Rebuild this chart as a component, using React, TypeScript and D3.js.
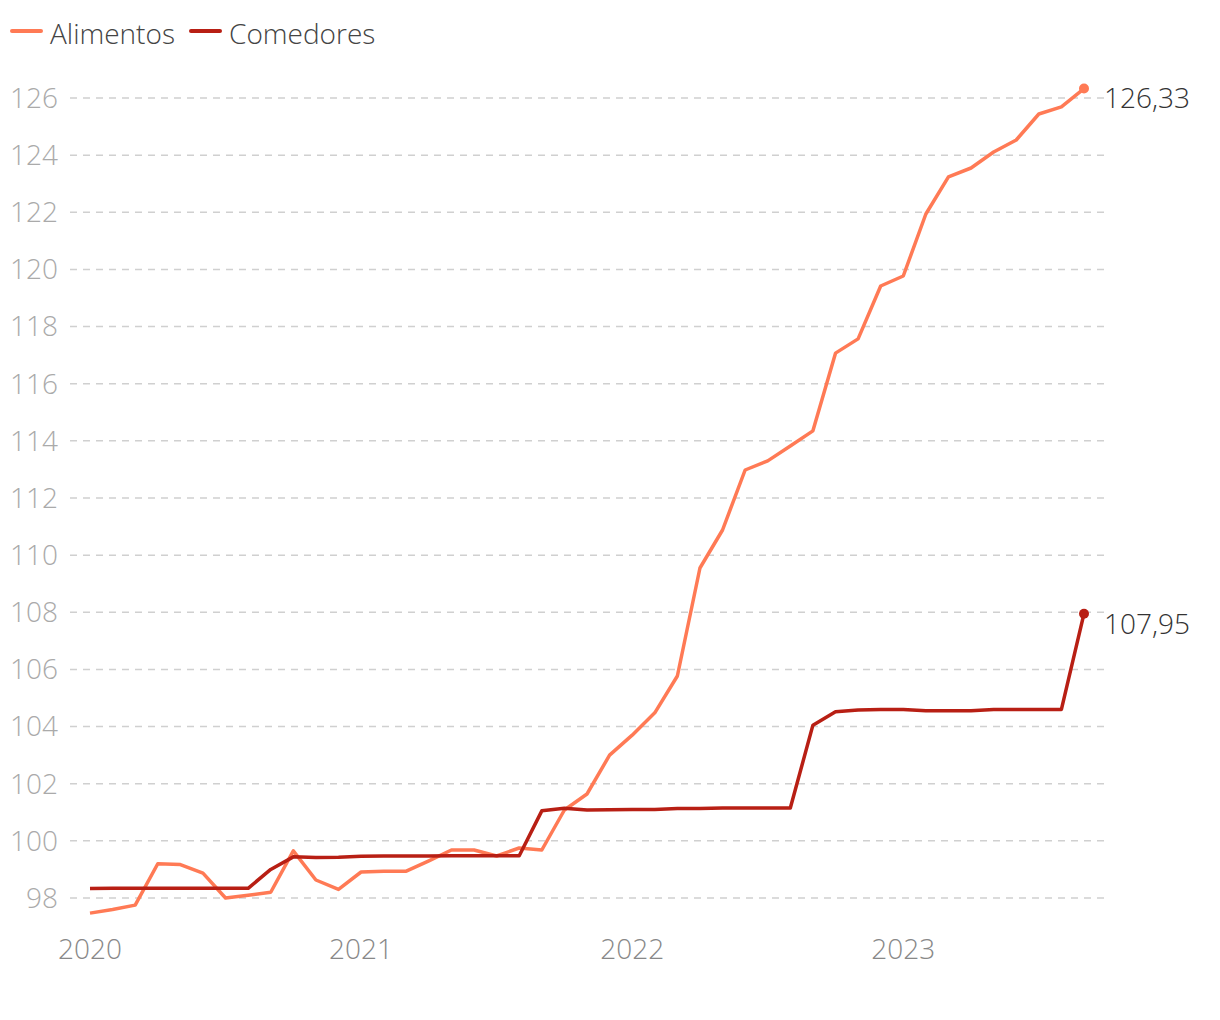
import React from "react";
import * as d3 from "d3";

const startYear = 2020;
const yTicks = [98, 100, 102, 104, 106, 108, 110, 112, 114, 116, 118, 120, 122, 124, 126];
const xTickYears = [2020, 2021, 2022, 2023];

const alimentos = [
  97.47, 97.6, 97.75, 99.2, 99.17, 98.87, 98.0, 98.1, 98.2, 99.65, 98.63, 98.3,
  98.91, 98.94, 98.94, 99.3, 99.68, 99.68, 99.47, 99.75, 99.68, 101.08, 101.64, 103.0,
  103.7, 104.48, 105.77, 109.55, 110.88, 112.98, 113.3, 113.82, 114.35, 117.07, 117.57, 119.42,
  119.77, 121.94, 123.24, 123.55, 124.11, 124.53, 125.44, 125.69, 126.33,
];
const comedores = [
  98.33, 98.34, 98.34, 98.34, 98.34, 98.34, 98.34, 98.34, 99.0, 99.44, 99.42, 99.43,
  99.46, 99.47, 99.47, 99.47, 99.48, 99.48, 99.48, 99.48, 101.05, 101.14, 101.08, 101.09,
  101.1, 101.1, 101.13, 101.13, 101.15, 101.15, 101.15, 101.15, 104.05, 104.52, 104.58, 104.6,
  104.6, 104.55, 104.55, 104.55, 104.6, 104.6, 104.6, 104.6, 107.95,
];

const seriesNames = ["Alimentos", "Comedores"];
const seriesColors = ["#ff7a55", "#b81f14"];
const lastLabels = ["126,33", "107,95"];

const FONT = "'Open Sans', 'Noto Sans', sans-serif";

export default function App() {
  const W = 1220;
  const H = 1020;
  const n = alimentos.length;
  const x = d3.scaleLinear().domain([0, n - 1]).range([90, 1084]);
  const y = d3.scaleLinear().domain([98, 126]).range([898, 98]);
  const line = d3
    .line<number>()
    .x((_, i) => x(i))
    .y((d) => y(d));
  const data = [alimentos, comedores];

  return (
    <svg
      width={W}
      height={H}
      style={{ position: "absolute", left: 0, top: 0, background: "#fff" }}
      fontFamily={FONT}
    >
      {/* grid + y ticks */}
      {yTicks.map((t) => (
        <g key={t}>
          <line
            x1={70}
            x2={1104}
            y1={y(t)}
            y2={y(t)}
            stroke="#d0d0d0"
            strokeWidth={1.5}
            strokeDasharray="7,6"
          />
          <text
            x={58}
            y={y(t)}
            dy="0.35em"
            textAnchor="end"
            fontSize={28}
            fontWeight={300}
            fill="#aaaaaa"
          >
            {t}
          </text>
        </g>
      ))}
      {/* x ticks */}
      {xTickYears.map((yr) => (
        <text
          key={yr}
          x={x((yr - startYear) * 12)}
          y={959}
          textAnchor="middle"
          fontSize={28}
          fontWeight={300}
          fill="#888888"
        >
          {yr}
        </text>
      ))}
      {/* lines */}
      {data.map((s, k) => (
        <g key={k}>
          <path
            d={line(s) || ""}
            fill="none"
            stroke={seriesColors[k]}
            strokeWidth={3.5}
            strokeLinejoin="round"
          />
          <circle cx={x(n - 1)} cy={y(s[n - 1])} r={5} fill={seriesColors[k]} />
          <text
            x={1104}
            y={y(s[n - 1]) + 10}
            dy="0.35em"
            fontSize={28}
            fontWeight={300}
            fill="#333333"
          >
            {lastLabels[k]}
          </text>
        </g>
      ))}
      {/* legend */}
      {seriesNames.map((name, k) => {
        const lx = k === 0 ? 12 : 191;
        return (
          <g key={name}>
            <line
              x1={lx}
              x2={lx + 29}
              y1={31}
              y2={31}
              stroke={seriesColors[k]}
              strokeWidth={4}
              strokeLinecap="round"
            />
            <text x={lx + 38} y={34} dy="0.35em" fontSize={28} fontWeight={300} fill="#444444">
              {name}
            </text>
          </g>
        );
      })}
    </svg>
  );
}
